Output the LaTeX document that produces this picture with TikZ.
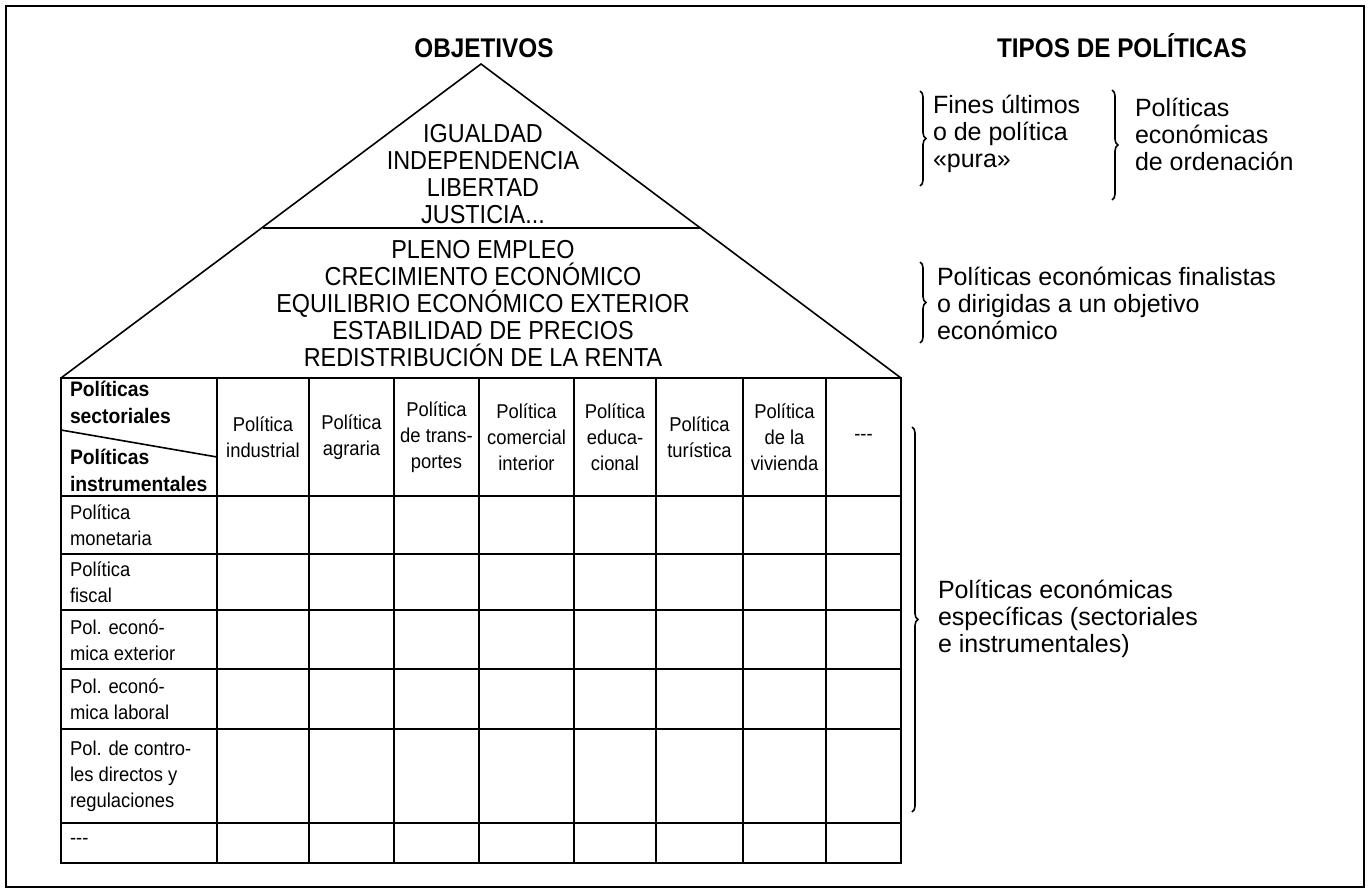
\documentclass[tikz,border=0pt]{standalone}
\usepackage{fontspec}
\setmainfont{Liberation Sans}
\newfontfamily\condfont[FakeStretch=0.92]{Liberation Sans}
\newfontfamily\pyrfont[FakeStretch=0.9]{Liberation Sans}
\usetikzlibrary{decorations.pathreplacing}

\begin{document}
\begin{tikzpicture}[x=1pt, y=-1pt,
	every node/.style={inner sep=0pt, outer sep=0pt},
	title/.style={anchor=base, font=\pyrfont\fontsize{27}{29}\selectfont\bfseries},
	goal/.style={align=center, font=\pyrfont\fontsize{26}{27}\selectfont},
	colhead/.style={align=center, font=\condfont\fontsize{20}{26}\selectfont},
	rowhead/.style={align=left, anchor=west, font=\condfont\fontsize{20}{26}\selectfont},
	corner/.style={align=left, font=\condfont\fontsize{21}{27}\selectfont\bfseries},
	note/.style={align=left, anchor=west, font=\fontsize{25}{27}\selectfont},
	grid/.style={line width=2pt},
	roof/.style={line width=1.6pt},
	curly/.style={decorate, decoration={brace, amplitude=6pt}, line width=1.6pt}]
	\useasboundingbox (0,0) rectangle (1370,892);
	\draw[line width=2pt] (6,6) rectangle (1364,887);
	% roof
	\coordinate (apex) at (481,64);
	\coordinate (roofL) at (61,378);
	\coordinate (roofR) at (901,378);
	\coordinate (midL) at (263,228);
	\coordinate (midR) at (701,228);
	\draw[roof] (roofL) -- (apex) -- (roofR);
	\draw[roof] (midL) -- (midR);
	\node[title] (objetivos) at (484,57) {OBJETIVOS};
	\node[title] (tipos) at (1122,57) {TIPOS DE POLÍTICAS};
	\node[goal] (fines) at (483,174) {IGUALDAD\\INDEPENDENCIA\\LIBERTAD\\JUSTICIA...};
	\node[goal] (metas) at (483,304) {PLENO EMPLEO\\CRECIMIENTO ECONÓMICO\\EQUILIBRIO ECONÓMICO EXTERIOR\\ESTABILIDAD DE PRECIOS\\REDISTRIBUCIÓN DE LA RENTA};
	% table
	\draw[grid] (61,378) rectangle (901,863);
	\foreach \x in {217,309,394,479,574,656,743,826}
		\draw[grid] (\x,378) -- (\x,863);
	\foreach \y in {496,554,610,669,729,823}
		\draw[grid] (61,\y) -- (901,\y);
	\draw[line width=1.6pt] (61,430) -- (217,457);
	\node[corner, anchor=north west] (sect) at (70,381) {Políticas\\sectoriales};
	\node[corner, anchor=south west] (instr) at (70,492) {Políticas\\instrumentales};
	\node[colhead] (industrial) at (263,437) {Política\\industrial};
	\node[colhead] (agraria) at (351.5,437) {Política\\agraria};
	\node[colhead] (transportes) at (436.5,437) {Política\\de trans-\\portes};
	\node[colhead] (comercial) at (526.5,437) {Política\\comercial\\interior};
	\node[colhead] (educacional) at (615,437) {Política\\educa-\\cional};
	\node[colhead] (turistica) at (699.5,437) {Política\\turística};
	\node[colhead] (vivienda) at (784.5,437) {Política\\de la\\vivienda};
	\node[colhead] (otrasS) at (863.5,437) {-{}-{}-};
	\node[rowhead] (monetaria) at (70,525) {Política\\monetaria};
	\node[rowhead] (fiscal) at (70,582) {Política\\fiscal};
	\node[rowhead] (exterior) at (70,640) {Pol. econó-\\mica exterior};
	\node[rowhead] (laboral) at (70,699) {Pol. econó-\\mica laboral};
	\node[rowhead] (controles) at (70,776) {Pol. de contro-\\les directos y\\regulaciones};
	\node[rowhead] (otrasI) at (70,841) {-{}-{}-};
	% braces and types
	\coordinate (b1t) at (920,91); \coordinate (b1b) at (920,186);
	\coordinate (b2t) at (1112,90); \coordinate (b2b) at (1112,200);
	\coordinate (b3t) at (920,262); \coordinate (b3b) at (920,343);
	\coordinate (b4t) at (912,427); \coordinate (b4b) at (912,812);
	\draw[curly] (b1t) -- (b1b);
	\draw[curly] (b2t) -- (b2b);
	\draw[curly] (b3t) -- (b3b);
	\draw[curly] (b4t) -- (b4b);
	\node[note] (puros) at (933,134) {Fines últimos\\o de política\\«pura»};
	\node[note] (ordenacion) at (1135,134) {Políticas\\económicas\\de ordenación};
	\node[note] (finalistas) at (937,303) {Políticas económicas finalistas\\o dirigidas a un objetivo\\económico};
	\node[note] (especificas) at (938,619) {Políticas económicas\\específicas (sectoriales\\e instrumentales)};
\end{tikzpicture}
\end{document}
